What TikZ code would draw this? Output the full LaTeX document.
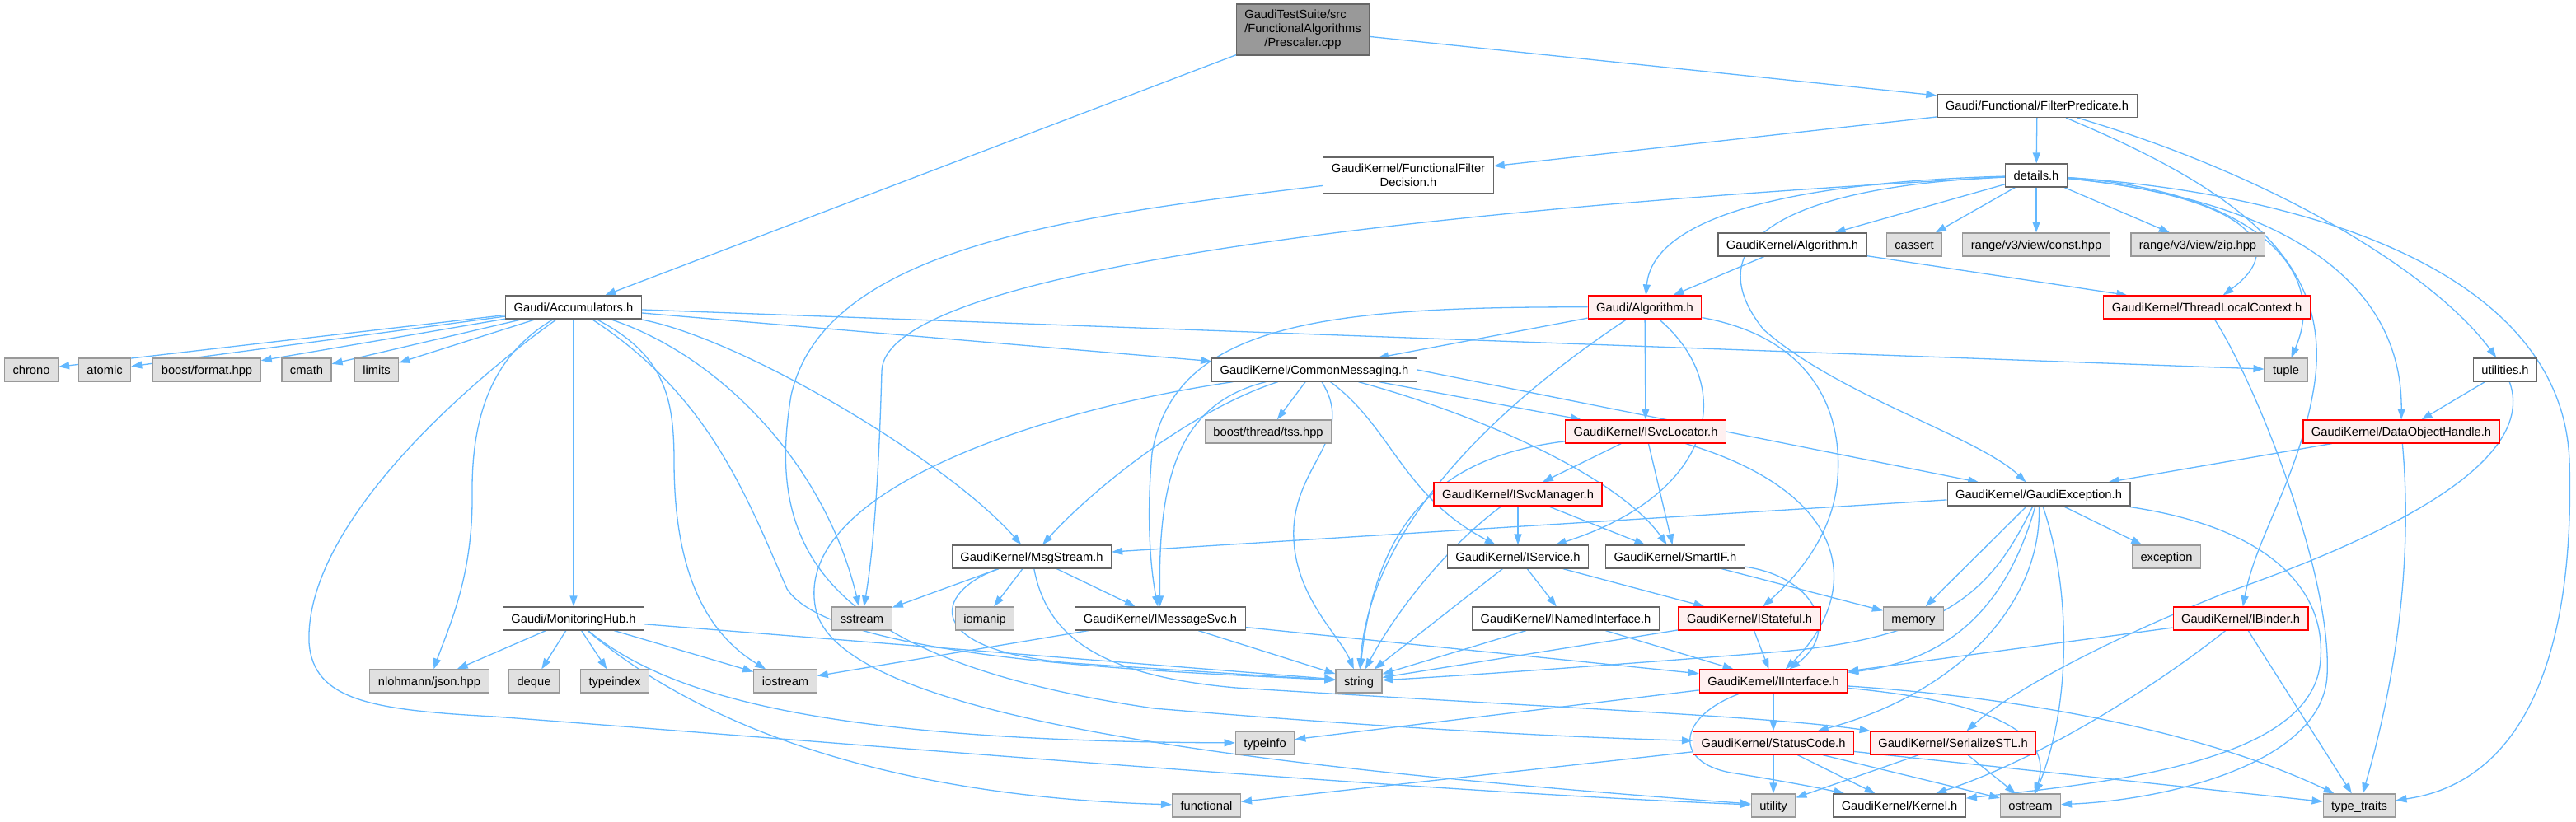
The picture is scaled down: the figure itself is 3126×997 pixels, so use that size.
\documentclass[tikz,border=0pt]{standalone}
\usepackage{fontspec}
\setmainfont{Liberation Sans}
\usetikzlibrary{arrows.meta}
\definecolor{edgecol}{HTML}{63B8FF}
\definecolor{plainborder}{HTML}{666666}
\definecolor{sysfill}{HTML}{E0E0E0}
\definecolor{sysborder}{HTML}{999999}
\definecolor{redfill}{HTML}{FFF0F0}
\definecolor{rootfill}{HTML}{999999}
\pgfdeclarelayer{bgfill}
\pgfdeclarelayer{edges}
\pgfsetlayers{bgfill,edges,main}
\tikzset{
  boxbase/.style={draw, line width=1.2pt, inner xsep=10pt, inner ysep=0pt, font=\fontsize{14.7}{16.7}\selectfont, text=black},
  oneline/.style={boxbase, minimum height=28pt, text height=10.5pt, text depth=0pt},
  plainbox/.style={oneline, draw=plainborder, fill=white},
  sysbox/.style={oneline, draw=sysborder, fill=sysfill},
  redbox/.style={oneline, draw=red, fill=redfill},
  twoline/.style={boxbase, draw=plainborder, fill=white, minimum height=44pt, align=center},
  rootbox/.style={boxbase, draw=plainborder, fill=rootfill, minimum height=62pt, inner xsep=9.5pt},
  conn/.style={draw=edgecol, line width=1.3pt, -{Triangle[length=13pt,width=9pt]}},
}
\begin{document}
\begin{tikzpicture}[x=1pt,y=-1pt]
\useasboundingbox (0,0) rectangle (3126,997);
\begin{pgfonlayer}{bgfill}
\fill[white] (0,0) rectangle (3126,997);
\end{pgfonlayer}

% ---------- nodes ----------
\node[rootbox] (prescaler) at (1581,36) {\begin{tabular}{@{}l@{}}GaudiTestSuite/src\\/FunctionalAlgorithms\\\multicolumn{1}{@{}c@{}}{/Prescaler.cpp}\end{tabular}};
\node[plainbox] (filterpred) at (2472,128.5) {Gaudi/Functional/FilterPredicate.h};
\node[twoline] (ffdecision) at (1709,213) {GaudiKernel/FunctionalFilter\\Decision.h};
\node[plainbox] (details) at (2471,213) {details.h};
\node[plainbox] (gkalgo) at (2175,297) {GaudiKernel/Algorithm.h};
\node[sysbox] (cassert) at (2323,297) {cassert};
\node[sysbox] (constv) at (2471,297) {range/v3/view/const.hpp};
\node[sysbox] (zipv) at (2667,297) {range/v3/view/zip.hpp};
\node[plainbox] (accum) at (696,373) {Gaudi/Accumulators.h};
\node[redbox] (galgo) at (1996,373) {Gaudi/Algorithm.h};
\node[redbox] (tlc) at (2678,373) {GaudiKernel/ThreadLocalContext.h};
\node[sysbox] (chrono) at (38,449) {chrono};
\node[sysbox] (atomic) at (127,449) {atomic};
\node[sysbox] (boostfmt) at (251,449) {boost/format.hpp};
\node[sysbox] (cmath) at (372,449) {cmath};
\node[sysbox] (limits) at (457,449) {limits};
\node[plainbox] (commsg) at (1595,449) {GaudiKernel/CommonMessaging.h};
\node[sysbox] (tuple) at (2774,449) {tuple};
\node[plainbox] (utilities) at (3040,449) {utilities.h};
\node[sysbox] (tss) at (1539,524) {boost/thread/tss.hpp};
\node[redbox] (isvcloc) at (1997,524) {GaudiKernel/ISvcLocator.h};
\node[redbox] (doh) at (2914,524) {GaudiKernel/DataObjectHandle.h};
\node[redbox] (isvcmgr) at (1842,600) {GaudiKernel/ISvcManager.h};
\node[plainbox] (gexc) at (2474,600) {GaudiKernel/GaudiException.h};
\node[plainbox] (msgstream) at (1252,676) {GaudiKernel/MsgStream.h};
\node[plainbox] (iservice) at (1842,676) {GaudiKernel/IService.h};
\node[plainbox] (smartif) at (2033,676) {GaudiKernel/SmartIF.h};
\node[sysbox] (exception) at (2629,676) {exception};
\node[plainbox] (monhub) at (696,751) {Gaudi/MonitoringHub.h};
\node[sysbox] (sstream) at (1046,751) {sstream};
\node[sysbox] (iomanip) at (1195,751) {iomanip};
\node[plainbox] (imsgsvc) at (1408,751) {GaudiKernel/IMessageSvc.h};
\node[plainbox] (inamed) at (1900,751) {GaudiKernel/INamedInterface.h};
\node[redbox] (istateful) at (2123,751) {GaudiKernel/IStateful.h};
\node[sysbox] (memory) at (2322,751) {memory};
\node[redbox] (ibinder) at (2719,751) {GaudiKernel/IBinder.h};
\node[sysbox] (json) at (521,827) {nlohmann/json.hpp};
\node[sysbox] (deque) at (648,827) {deque};
\node[sysbox] (typeindex) at (746,827) {typeindex};
\node[sysbox] (iostream) at (953,827) {iostream};
\node[sysbox] (string) at (1649,827) {string};
\node[redbox] (iinterface) at (2152,827) {GaudiKernel/IInterface.h};
\node[sysbox] (typeinfo) at (1535,902) {typeinfo};
\node[redbox] (statuscode) at (2152,902) {GaudiKernel/StatusCode.h};
\node[redbox] (serialize) at (2370,902) {GaudiKernel/SerializeSTL.h};
\node[sysbox] (functional) at (1464,978) {functional};
\node[sysbox] (utility) at (2152,978) {utility};
\node[plainbox] (kernel) at (2305,978) {GaudiKernel/Kernel.h};
\node[sysbox] (ostream) at (2464,978) {ostream};
\node[sysbox] (typetraits) at (2863,978) {type\_traits};

% ---------- edges ----------
\begin{pgfonlayer}{edges}
\draw[conn] (prescaler) -- (accum);
\draw[conn] (prescaler) -- (filterpred);
\draw[conn] (filterpred) -- (ffdecision);
\draw[conn] (filterpred) -- (details);
\draw[conn] (filterpred) .. controls (2780,220) and (2960,340) .. (utilities);
\draw[conn] (filterpred) .. controls (2740,240) and (2830,330) .. (2808,470) .. controls (2790,580) and (2738,650) .. (ibinder);
\draw[conn] (ffdecision) .. controls (1300,262) and (1000,300) .. (960,480) .. controls (930,660) and (990,800) .. (1400,860) .. controls (1700,885) and (1900,895) .. (statuscode);

\draw[conn] (details) -- (gkalgo);
\draw[conn] (details) -- (cassert);
\draw[conn] (details) -- (constv);
\draw[conn] (details) -- (zipv);
\draw[conn] (details) .. controls (2150,222) and (2005,270) .. (galgo);
\draw[conn] (details) .. controls (2700,235) and (2790,290) .. (tlc);
\draw[conn] (details) .. controls (2720,230) and (2830,320) .. (tuple);
\draw[conn] (details) .. controls (2750,240) and (2915,330) .. (doh);
\draw[conn] (details) .. controls (2800,235) and (3110,330) .. (3118,560) .. controls (3125,800) and (3060,950) .. (typetraits);
\draw[conn] (details) .. controls (2150,228) and (2060,300) .. (2140,400) .. controls (2230,480) and (2400,530) .. (gexc);
\draw[conn] (details) .. controls (1700,255) and (1075,330) .. (1070,450) .. controls (1066,600) and (1058,680) .. (sstream);

\draw[conn] (gkalgo) -- (galgo);
\draw[conn] (gkalgo) -- (tlc);

\draw[conn] (galgo) -- (commsg);
\draw[conn] (galgo) .. controls (1600,372) and (1425,395) .. (1398,550) .. controls (1390,640) and (1398,700) .. (imsgsvc);
\draw[conn] (galgo) -- (isvcloc);
\draw[conn] (galgo) .. controls (1850,470) and (1665,620) .. (string);
\draw[conn] (galgo) .. controls (2110,470) and (2080,600) .. (iservice);
\draw[conn] (galgo) .. controls (2200,410) and (2236,500) .. (2230,580) .. controls (2225,650) and (2180,700) .. (istateful);

\draw[conn] (commsg) -- (tss);
\draw[conn] (commsg) -- (isvcloc);
\draw[conn] (commsg) .. controls (1440,500) and (1320,600) .. (msgstream);
\draw[conn] (commsg) .. controls (1430,490) and (1405,580) .. (imsgsvc);
\draw[conn] (commsg) .. controls (1645,530) and (1575,560) .. (1570,640) .. controls (1566,720) and (1625,770) .. (string);
\draw[conn] (commsg) .. controls (1690,520) and (1700,600) .. (iservice);
\draw[conn] (commsg) .. controls (1800,505) and (1965,580) .. (smartif);
\draw[conn] (commsg.east) -- (gexc);
\draw[conn] (commsg) .. controls (1250,500) and (960,600) .. (990,740) .. controls (1020,870) and (1500,930) .. (utility);

\draw[conn] (accum) -- (chrono);
\draw[conn] (accum) -- (atomic);
\draw[conn] (accum) -- (boostfmt);
\draw[conn] (accum) -- (cmath);
\draw[conn] (accum) -- (limits);
\draw[conn] (accum) -- (commsg);
\draw[conn] (accum) -- (tuple);
\draw[conn] (accum) -- (monhub);
\draw[conn] (accum) .. controls (900,410) and (1150,560) .. (msgstream);
\draw[conn] (accum) .. controls (870,430) and (1000,560) .. (sstream);
\draw[conn] (accum) .. controls (600,430) and (572,500) .. (573,600) .. controls (574,700) and (545,760) .. (json);
\draw[conn] (accum) .. controls (805,430) and (818,480) .. (818,560) .. controls (818,700) and (860,770) .. (iostream);
\draw[conn] (accum) .. controls (860,480) and (905,600) .. (955,715) .. controls (1010,800) and (1400,815) .. (string);
\draw[conn] (accum) .. controls (560,470) and (370,640) .. (375,780) .. controls (380,850) and (450,862) .. (600,870) .. controls (1000,900) and (1700,960) .. (utility);

\draw[conn] (monhub) -- (json);
\draw[conn] (monhub) -- (deque);
\draw[conn] (monhub) -- (typeindex);
\draw[conn] (monhub) -- (iostream);
\draw[conn] (monhub) -- (string);
\draw[conn] (monhub) .. controls (810,845) and (1000,900) .. (typeinfo);
\draw[conn] (monhub) .. controls (800,840) and (1000,965) .. (functional);

\draw[conn] (msgstream) -- (sstream);
\draw[conn] (msgstream) -- (iomanip);
\draw[conn] (msgstream) -- (imsgsvc);
\draw[conn] (msgstream) .. controls (1130,720) and (1120,790) .. (1300,805) .. controls (1450,815) and (1560,822) .. (string);
\draw[conn] (msgstream) .. controls (1270,770) and (1330,820) .. (1500,835) .. controls (1900,860) and (2150,870) .. (serialize);

\draw[conn] (imsgsvc) -- (string);
\draw[conn] (imsgsvc) -- (iinterface);
\draw[conn] (imsgsvc) -- (iostream);

\draw[conn] (isvcloc) -- (isvcmgr);
\draw[conn] (isvcloc) -- (smartif);
\draw[conn] (isvcloc) .. controls (1740,555) and (1670,640) .. (string);
\draw[conn] (isvcloc) .. controls (2250,600) and (2260,720) .. (iinterface);

\draw[conn] (isvcmgr) -- (iservice);
\draw[conn] (isvcmgr) -- (smartif);
\draw[conn] (isvcmgr) .. controls (1760,660) and (1695,740) .. (string);

\draw[conn] (iservice) -- (inamed);
\draw[conn] (iservice) -- (istateful);
\draw[conn] (iservice) -- (string);

\draw[conn] (smartif) -- (memory);
\draw[conn] (smartif) .. controls (2200,700) and (2235,765) .. (iinterface);

\draw[conn] (inamed) -- (string);
\draw[conn] (inamed) -- (iinterface);
\draw[conn] (istateful) -- (string);
\draw[conn] (istateful) -- (iinterface);

\draw[conn] (gexc) -- (msgstream);
\draw[conn] (gexc) -- (memory);
\draw[conn] (gexc) -- (exception);
\draw[conn] (gexc) .. controls (2440,720) and (2380,800) .. (iinterface);
\draw[conn] (gexc) .. controls (2478,730) and (2380,840) .. (statuscode);
\draw[conn] (gexc) .. controls (2515,720) and (2512,860) .. (ostream);
\draw[conn] (gexc) .. controls (2420,710) and (2370,775) .. (2150,792) .. controls (1950,808) and (1750,822) .. (string);
\draw[conn] (gexc) .. controls (2760,640) and (2822,720) .. (2816,800) .. controls (2810,925) and (2560,950) .. (kernel);

\draw[conn] (tlc) .. controls (2740,470) and (2830,700) .. (2824,820) .. controls (2818,930) and (2620,972) .. (ostream);

\draw[conn] (doh) -- (gexc);
\draw[conn] (doh) .. controls (2930,700) and (2900,850) .. (typetraits);

\draw[conn] (utilities) -- (doh);
\draw[conn] (utilities) .. controls (3080,560) and (2900,650) .. (2700,720) .. controls (2550,780) and (2440,840) .. (serialize);

\draw[conn] (ibinder) -- (iinterface);
\draw[conn] (ibinder) -- (typetraits);
\draw[conn] (ibinder) .. controls (2620,830) and (2480,920) .. (kernel);

\draw[conn] (iinterface) -- (typeinfo);
\draw[conn] (iinterface) -- (statuscode);
\draw[conn] (iinterface) .. controls (2035,870) and (2030,925) .. (2100,938) .. controls (2150,946) and (2200,955) .. (kernel);
\draw[conn] (iinterface) .. controls (2400,850) and (2495,885) .. (ostream);
\draw[conn] (iinterface) .. controls (2500,850) and (2700,900) .. (typetraits);

\draw[conn] (statuscode) -- (functional);
\draw[conn] (statuscode) -- (utility);
\draw[conn] (statuscode) -- (kernel);
\draw[conn] (statuscode) -- (ostream);
\draw[conn] (statuscode) -- (typetraits);

\draw[conn] (serialize) -- (utility);
\draw[conn] (serialize) -- (ostream);
\end{pgfonlayer}
\end{tikzpicture}
\end{document}
